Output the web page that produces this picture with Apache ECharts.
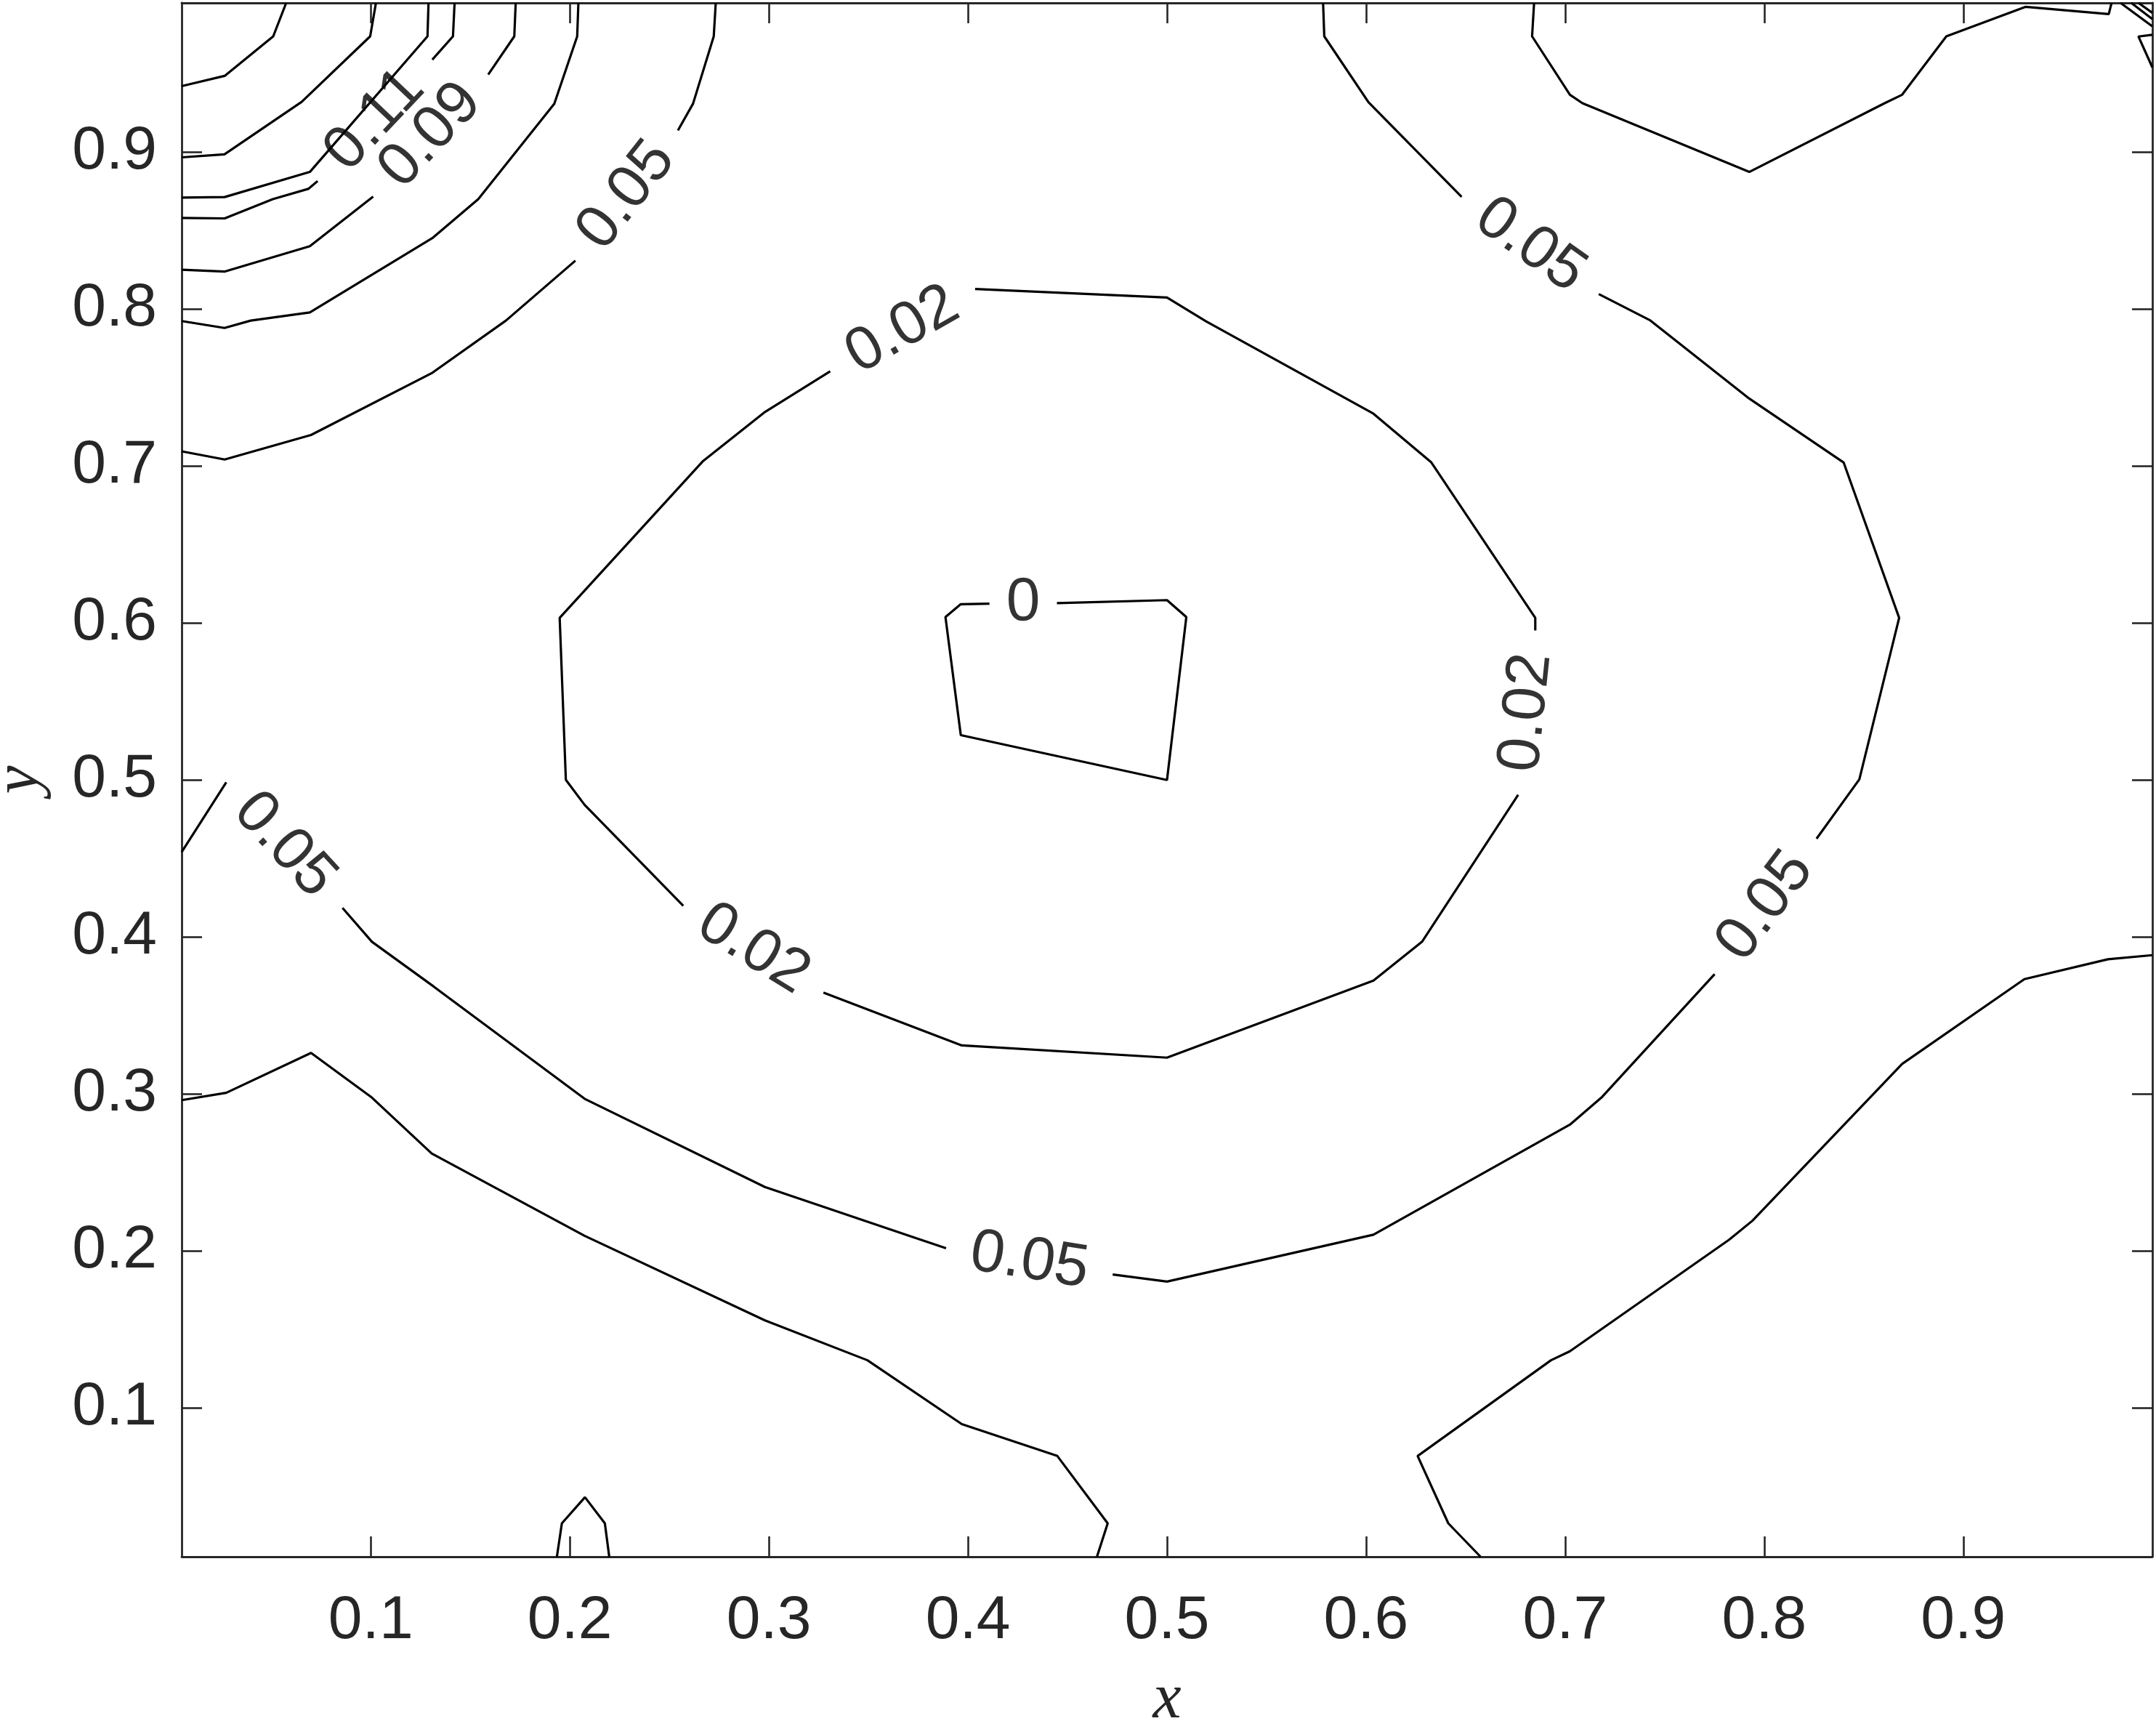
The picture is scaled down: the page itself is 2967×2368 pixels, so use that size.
<!DOCTYPE html>
<html>
<head>
<meta charset="utf-8">
<script src="https://cdn.jsdelivr.net/npm/echarts@6/dist/echarts.min.js"></script>
<style>
html,body{margin:0;padding:0;background:#ffffff;}
#chart{width:2967px;height:2368px;}
</style>
</head>
<body>
<div id="chart"></div>
<script>
// ---------- axes ----------
const xRange = [0.005, 0.995];
const yRange = [0.005, 0.995];
const xTicks = [0.1, 0.2, 0.3, 0.4, 0.5, 0.6, 0.7, 0.8, 0.9];
const xTickLabels = ['0.1', '0.2', '0.3', '0.4', '0.5', '0.6', '0.7', '0.8', '0.9'];
const yTicks = [0.1, 0.2, 0.3, 0.4, 0.5, 0.6, 0.7, 0.8, 0.9];
const yTickLabels = ['0.1', '0.2', '0.3', '0.4', '0.5', '0.6', '0.7', '0.8', '0.9'];
const xName = 'x';
const yName = 'y';

// ---------- contour pieces (x, y) ----------
// top-left corner, high levels
const levelA = [[0.005,0.942],[0.0266,0.9485],[0.051,0.9737],[0.0575,0.995]];
const levelB = [[0.005,0.8966],[0.0265,0.8985],[0.0653,0.932],[0.0997,0.9737],[0.1026,0.995]];
const levelC = [[0.005,0.871],[0.0266,0.8713],[0.0694,0.8873],[0.1285,0.9737],[0.129,0.995]];
const level011a = [[0.005,0.858],[0.0266,0.8577],[0.0508,0.870],[0.0686,0.8765],[0.0733,0.8815]];
const level011b = [[0.1309,0.9588],[0.1413,0.9737],[0.1421,0.995]];
const level009a = [[0.005,0.825],[0.0265,0.8238],[0.0694,0.840],[0.1012,0.8716]];
const level009b = [[0.159,0.9493],[0.1721,0.9737],[0.1728,0.995]];
const level007tl = [[0.005,0.7923],[0.0265,0.7879],[0.0397,0.7926],[0.0694,0.7978],[0.1309,0.8451],[0.154,0.870],[0.1922,0.9308],[0.2037,0.9737],[0.2043,0.995]];
// 0.05, top-left piece
const level005tlA = [[0.005,0.7093],[0.0266,0.7041],[0.07,0.7197],[0.131,0.7594],[0.168,0.7927],[0.2028,0.8308]];
const level005tlB = [[0.2543,0.9137],[0.2619,0.9308],[0.2723,0.9737],[0.2733,0.995]];
// 0.05, big curve
const level005a = [[0.5784,0.995],[0.579,0.9737],[0.6012,0.9317],[0.648,0.8714]];
const level005b = [[0.7169,0.8095],[0.7428,0.7927],[0.7925,0.7429],[0.8399,0.7022],[0.8678,0.6032],[0.8478,0.5003],[0.8263,0.4625]];
const level005c = [[0.7751,0.3762],[0.7182,0.2975],[0.7024,0.2803],[0.6037,0.2102],[0.5,0.1803],[0.4727,0.1848]];
const level005d = [[0.389,0.2016],[0.3738,0.208],[0.298,0.2406],[0.2074,0.2968],[0.1316,0.3683],[0.1006,0.3968],[0.0858,0.4184]];
const level005e = [[0.0274,0.4984],[0.005,0.454]];
// 0.02 loop
const level002a = [[0.4036,0.8127],[0.5,0.8073],[0.5196,0.7921],[0.6037,0.7333],[0.6328,0.7022],[0.685,0.6032],[0.685,0.5952]];
const level002b = [[0.6764,0.4905],[0.6281,0.3968],[0.6037,0.3721],[0.5,0.323],[0.3969,0.3308],[0.3274,0.3644]];
const level002c = [[0.257,0.4197],[0.2074,0.4841],[0.198,0.500],[0.1949,0.6032],[0.267,0.7032],[0.2976,0.734],[0.3308,0.7603]];
// 0 loop
const level000 = [[0.4447,0.6126],[0.5,0.6145],[0.5097,0.6037],[0.5,0.4999],[0.3964,0.5285],[0.3887,0.6037],[0.3964,0.6119],[0.4108,0.6122]];
// 0.07 pieces
const level007tr = [[0.6844,0.995],[0.6834,0.9737],[0.7024,0.9365],[0.7087,0.9311],[0.7925,0.8873],[0.8605,0.9311],[0.8693,0.9365],[0.8915,0.9737],[0.9312,0.9925],[0.9731,0.9879],[0.9745,0.995]];
const level007bl = [[0.005,0.2959],[0.0274,0.3006],[0.07,0.326],[0.1006,0.2975],[0.1306,0.2619],[0.2074,0.2095],[0.298,0.1556],[0.3495,0.1302],[0.3969,0.0895],[0.4449,0.0692],[0.4702,0.0263],[0.4648,0.005]];
const level007br = [[0.6575,0.005],[0.6413,0.0263],[0.6259,0.0692],[0.6929,0.1302],[0.7024,0.1359],[0.7824,0.207],[0.7941,0.2191],[0.8693,0.319],[0.9307,0.373],[0.9727,0.3857],[0.995,0.3883]];
// small pieces
const bumpBottom = [[0.1935,0.005],[0.196,0.0263],[0.2076,0.0429],[0.2176,0.0263],[0.2198,0.005]];
const cornerA = [[0.979,0.995],[0.995,0.9801]];
const cornerB = [[0.9844,0.995],[0.995,0.9847]];
const cornerC = [[0.988,0.995],[0.995,0.9887]];
const cornerD = [[0.995,0.9747],[0.988,0.9736],[0.995,0.9539]];

const contourPieces = [levelA, levelB, levelC, level011a, level011b, level009a, level009b, level007tl,
  level005tlA, level005tlB, level005a, level005b, level005c, level005d, level005e,
  level002a, level002b, level002c, level000, level007tr, level007bl, level007br,
  bumpBottom, cornerA, cornerB, cornerC, cornerD];

// ---------- contour labels: text sits in the gap between two pieces ----------
const labelTexts = ['0.11', '0.09', '0.05', '0.02', '0', '0.05', '0.02', '0.05', '0.05', '0.02', '0.05'];
const labelGapFrom = [[0.0733,0.8815],[0.1012,0.8716],[0.2028,0.8308],[0.3308,0.7603],[0.4108,0.6122],[0.648,0.8714],[0.6764,0.4905],[0.7751,0.3762],[0.389,0.2016],[0.257,0.4197],[0.0274,0.4984]];
const labelGapTo   = [[0.1309,0.9588],[0.159,0.9493],[0.2543,0.9137],[0.4036,0.8127],[0.4447,0.6126],[0.7169,0.8095],[0.685,0.5952],[0.8263,0.4625],[0.4727,0.1848],[0.3274,0.3644],[0.0858,0.4184]];

// ---------- build chart ----------
const AX = '#262626';
const tickFont = 'Liberation Sans, Arial, Helvetica, sans-serif';
function fmt(ticks, labels) {
  return function (v) {
    const i = ticks.findIndex(t => Math.abs(t - v) < 1e-9);
    return i >= 0 ? labels[i] : '';
  };
}
function makeAxis(range, ticks, labels, position, show, name, isY) {
  const a = {
    type: 'value', gridIndex: 0, min: range[0], max: range[1], position: position,
    axisLine: { show: true, onZero: false, lineStyle: { color: AX, width: 2.8 } },
    axisTick: { show: true, inside: true, length: 28, customValues: ticks, lineStyle: { color: AX, width: 2.6 } },
    axisLabel: { show: show, customValues: ticks, formatter: fmt(ticks, labels), fontSize: 84,
                 color: AX, fontFamily: tickFont, margin: isY ? 34 : 47 },
    splitLine: { show: false },
    axisPointer: { show: false }
  };
  if (name) {
    a.name = name;
    a.nameLocation = 'middle';
    a.nameGap = isY ? 222 : 198;
    if (isY) a.nameRotate = 90;
    a.nameTextStyle = { fontFamily: 'Liberation Serif, DejaVu Serif, serif', fontStyle: 'italic',
                        fontSize: 88, color: AX, verticalAlign: 'middle', align: 'center' };
  }
  return a;
}

const chart = echarts.init(document.getElementById('chart'), null, { renderer: 'canvas', width: 2967, height: 2368 });

const lineSeries = contourPieces.map(p => ({
  type: 'line', xAxisIndex: 0, yAxisIndex: 0, data: p, symbol: 'none', showSymbol: false,
  lineStyle: { color: '#000000', width: 3.2 }, silent: true, animation: false, clip: true, z: 2
}));

const baseOption = {
  backgroundColor: '#ffffff',
  animation: false,
  grid: { left: 250, right: 5, top: 4, bottom: 226, containLabel: false, outerBoundsMode: 'none' },
  xAxis: [
    makeAxis(xRange, xTicks, xTickLabels, 'bottom', true, xName, false),
    makeAxis(xRange, xTicks, xTickLabels, 'top', false, null, false)
  ],
  yAxis: [
    makeAxis(yRange, yTicks, yTickLabels, 'left', true, yName, true),
    makeAxis(yRange, yTicks, yTickLabels, 'right', false, null, true)
  ],
  series: lineSeries
};
chart.setOption(baseOption);

// place labels in the gaps, rotated along the contour (angle from the library's pixel mapping)
const labelData = labelTexts.map((t, i) => {
  const a = labelGapFrom[i], b = labelGapTo[i];
  const pa = chart.convertToPixel({ xAxisIndex: 0, yAxisIndex: 0 }, a);
  const pb = chart.convertToPixel({ xAxisIndex: 0, yAxisIndex: 0 }, b);
  const ang = Math.atan2(-(pb[1] - pa[1]), pb[0] - pa[0]) * 180 / Math.PI;
  return { value: [(a[0] + b[0]) / 2, (a[1] + b[1]) / 2], label: { rotate: ang, formatter: t } };
});

chart.setOption({
  series: lineSeries.concat([{
    type: 'scatter', xAxisIndex: 0, yAxisIndex: 0, data: labelData, symbolSize: 1,
    itemStyle: { color: 'rgba(0,0,0,0)' }, silent: true, animation: false, z: 3,
    label: { show: true, position: 'inside', fontSize: 84, color: '#000000', fontFamily: tickFont }
  }])
});
</script>
</body>
</html>
